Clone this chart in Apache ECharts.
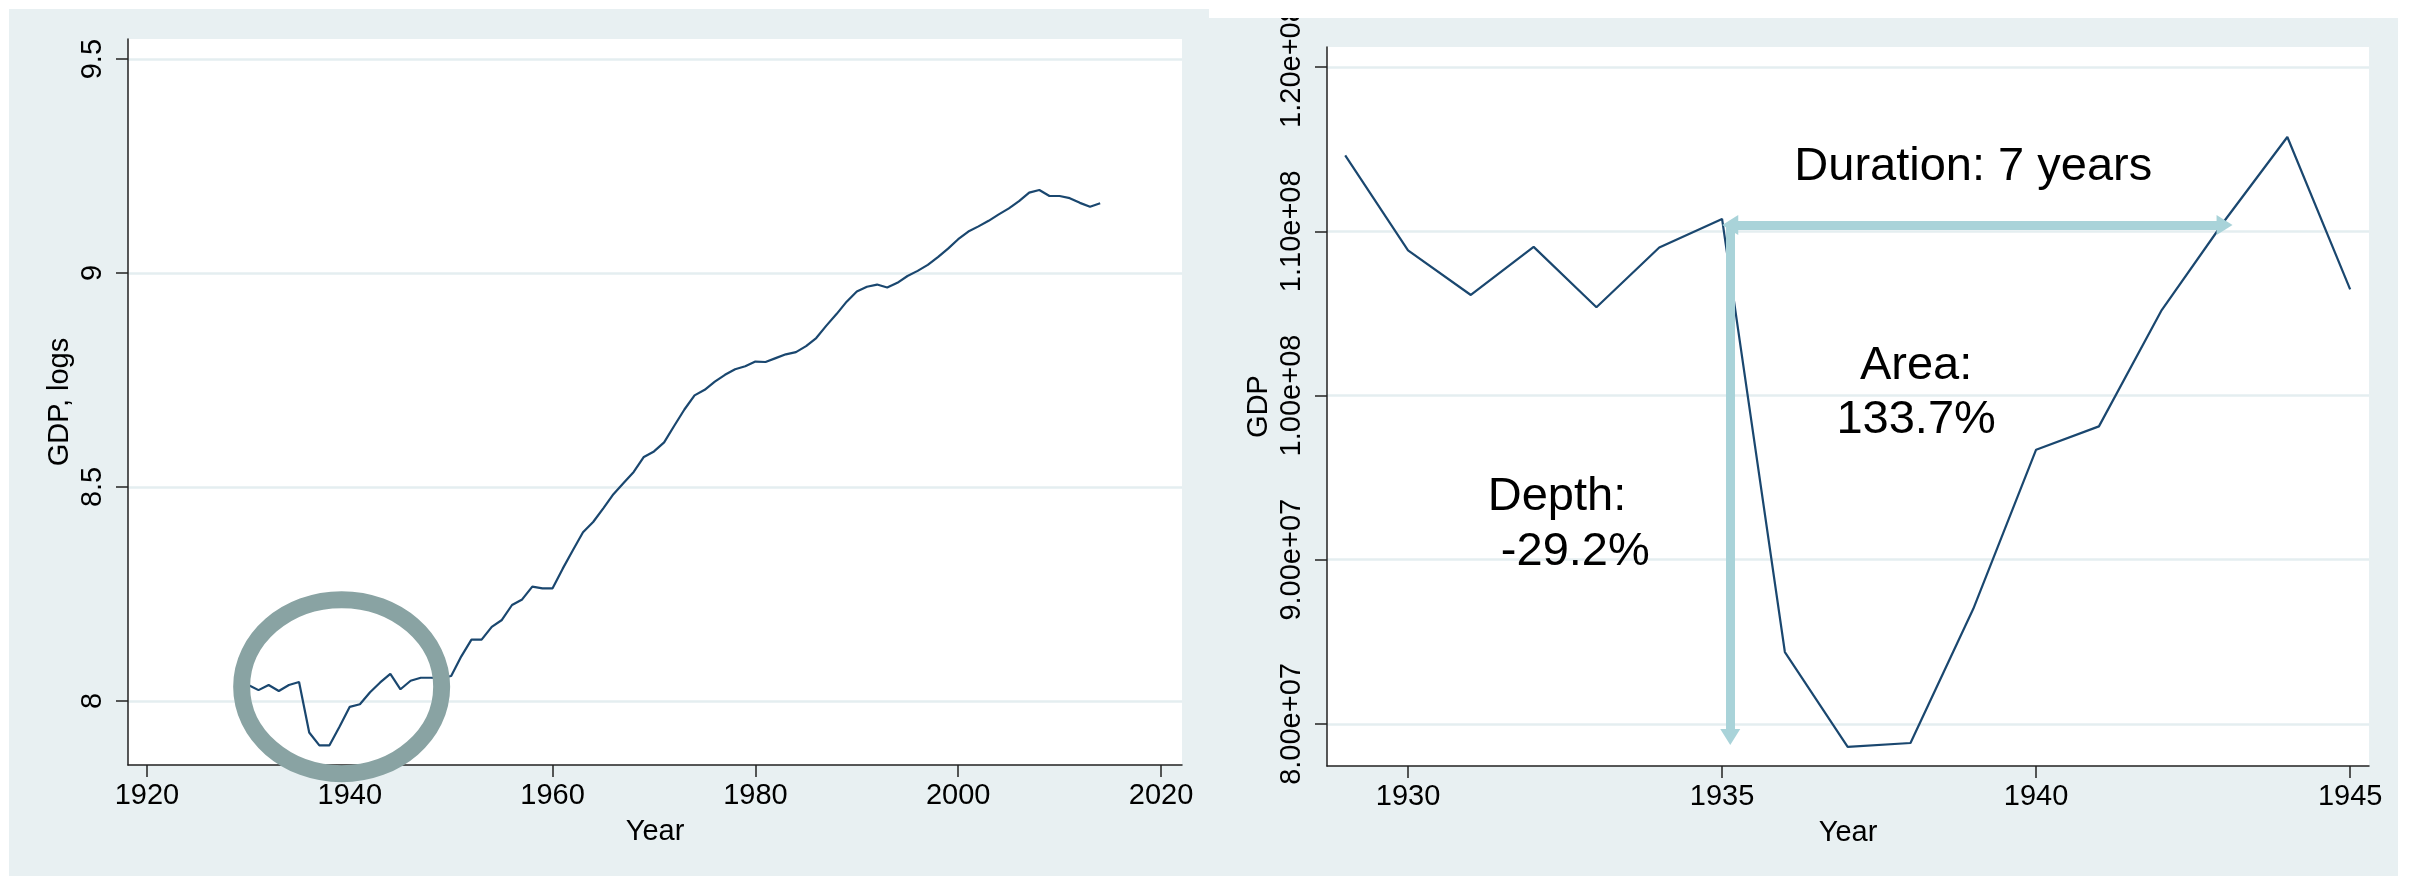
<!DOCTYPE html>
<html>
<head>
<meta charset="utf-8">
<script src="https://cdn.jsdelivr.net/npm/echarts@6/dist/echarts.min.js"></script>
<style>
html,body{margin:0;padding:0;background:#fff;}
#c{width:2413px;height:876px;}
</style>
</head>
<body>
<div id="c"></div>
<script>
// ---------- DATA ----------
const leftYears = [1929,1930,1931,1932,1933,1934,1935,1936,1937,1938,1939,1940,1941,1942,1943,1944,1945,1946,1947,1948,1949,
  1950,1951,1952,1953,1954,1955,1956,1957,1958,1959,1960,1961,1962,1963,1964,1965,1966,1967,1968,1969,
  1970,1971,1972,1973,1974,1975,1976,1977,1978,1979,1980,1981,1982,1983,1984,1985,1986,1987,1988,1989,
  1990,1991,1992,1993,1994,1995,1996,1997,1998,1999,2000,2001,2002,2003,2004,2005,2006,2007,2008,2009,
  2010,2011,2012,2013,2014];
const leftLogGDP = [8.080,8.037,8.025,8.037,8.023,8.037,8.044,7.926,7.896,7.896,7.940,7.986,7.992,8.020,8.043,8.063,8.027,8.047,8.054,8.054,8.053,
  8.058,8.104,8.143,8.143,8.173,8.189,8.224,8.237,8.267,8.263,8.263,8.309,8.352,8.394,8.418,8.450,8.483,8.509,8.535,8.570,
  8.583,8.604,8.643,8.681,8.714,8.727,8.746,8.762,8.775,8.782,8.793,8.792,8.801,8.810,8.815,8.829,8.848,8.877,8.904,8.933,
  8.957,8.968,8.973,8.966,8.977,8.993,9.005,9.019,9.037,9.057,9.079,9.097,9.109,9.122,9.137,9.151,9.168,9.188,9.194,9.180,
  9.180,9.175,9.164,9.155,9.163];
const leftXTicks = [1920,1940,1960,1980,2000,2020];
const leftYTicks = [8,8.5,9,9.5];

const rightYears = [1929,1930,1931,1932,1933,1934,1935,1936,1937,1938,1939,1940,1941,1942,1943,1944,1945];
const rightGDP = [1.1462e8,1.0884e8,1.0612e8,1.0905e8,1.0537e8,1.0901e8,1.1075e8,8.438e7,7.861e7,7.884e7,8.701e7,9.670e7,9.812e7,1.0520e8,1.1064e8,1.1574e8,1.0646e8];
const rightXTicks = [1930,1935,1940,1945];
const rightYTicks = [8e7,9e7,1e8,1.1e8,1.2e8];

const durationText = 'Duration: 7 years';
const areaText = 'Area:\n133.7%';
const depthText = 'Depth:\n -29.2%';
const peakYear = 1935.13, peakLevel = 1.1038e8, recoveryYear = 1943, depthEnd = 7.92e7;

// ---------- STYLE ----------
const FONT = '"Liberation Sans", Arial, Helvetica, sans-serif';
const BG = '#e8f0f2';
const GRID_C = '#e4eef0';
const AXIS_C = '#222222';
const LINE_C = '#1a476f';
const RING_C = '#89a3a3';
const ARROW_C = '#a9d3d9';

function sciLabel(v){
  const s = Number(v).toExponential(2);
  const p = s.split('e');
  return p[0] + 'e' + p[1][0] + p[1].slice(1).padStart(2,'0');
}

function xAxisDef(g, min, max, ticks){
  return {
    gridIndex:g, type:'value', min:min, max:max,
    name:'Year', nameLocation:'middle', nameGap:52,
    nameTextStyle:{fontSize:29, fontFamily:FONT, color:'#000'},
    axisLine:{show:true, onZero:false, lineStyle:{color:AXIS_C, width:1.5}},
    axisTick:{show:true, length:12, customValues:ticks, lineStyle:{color:AXIS_C, width:1.5}},
    axisLabel:{show:true, customValues:ticks, fontSize:29, fontFamily:FONT, color:'#000', margin:16, formatter:v => String(v)},
    splitLine:{show:false}
  };
}
function yAxisDef(g, min, max, ticks, name, fmt){
  return {
    gridIndex:g, type:'value', min:min, max:max,
    name:name, nameLocation:'middle', nameGap:54, nameRotate:90,
    nameTextStyle:{fontSize:29, fontFamily:FONT, color:'#000'},
    axisLine:{show:true, onZero:false, lineStyle:{color:AXIS_C, width:1.5}},
    axisTick:{show:true, length:12, customValues:ticks, lineStyle:{color:AXIS_C, width:1.5}},
    axisLabel:{show:true, customValues:ticks, rotate:90, fontSize:29, fontFamily:FONT, color:'#000', margin:21, formatter:fmt},
    splitLine:{show:true, lineStyle:{color:GRID_C, width:2.5}}
  };
}

const chart = echarts.init(document.getElementById('c'));
chart.setOption({
  animation:false,
  backgroundColor:'transparent',
  grid:[
    {left:128, top:39, width:1054, height:726, show:true, backgroundColor:'#ffffff', borderWidth:0},
    {left:1327, top:47, width:1042, height:719, show:true, backgroundColor:'#ffffff', borderWidth:0}
  ],
  xAxis:[
    xAxisDef(0, 1918.13, 2022.07, leftXTicks),
    xAxisDef(1, 1928.71, 1945.30, rightXTicks)
  ],
  yAxis:[
    yAxisDef(0, 7.85, 9.547, leftYTicks, 'GDP, logs', v => String(v)),
    yAxisDef(1, 7.744e7, 1.2122e8, rightYTicks, 'GDP', sciLabel)
  ],
  series:[
    {type:'line', xAxisIndex:0, yAxisIndex:0, symbol:'none', showSymbol:false,
     data:leftYears.map((y,i)=>[y,leftLogGDP[i]]),
     lineStyle:{color:LINE_C, width:2.2}, z:3},
    {type:'line', xAxisIndex:1, yAxisIndex:1, symbol:'none', showSymbol:false,
     data:rightYears.map((y,i)=>[y,rightGDP[i]]),
     lineStyle:{color:LINE_C, width:2.2}, z:3,
     markLine:{
       silent:true, animation:false, symbolSize:[20,16],
       label:{show:false},
       lineStyle:{color:ARROW_C, width:9, type:'solid', opacity:1},
       emphasis:{disabled:true},
       data:[
         [{coord:[peakYear, peakLevel], symbol:'none'}, {coord:[peakYear, depthEnd], symbol:'triangle'}],
         [{coord:[peakYear, peakLevel], symbol:'triangle'}, {coord:[recoveryYear, peakLevel], symbol:'triangle'}]
       ]
     }}
  ]
});

function px(g, x, y){ return chart.convertToPixel({gridIndex:g}, [x, y]); }
const ringC = px(0, 1939.2, 8.033);
const dur = px(1, 1939.0, 1.139e8);
const area = px(1, 1938.09, 1.0015e8);
const depth = px(1, 1931.27, 9.215e7);

chart.setOption({
  graphic:[
    {type:'rect', z:-100, silent:true, shape:{x:9, y:9, width:1200, height:867}, style:{fill:BG}},
    {type:'rect', z:-100, silent:true, shape:{x:1209, y:18, width:1189, height:858}, style:{fill:BG}},
    {type:'ellipse', z:100, silent:true, shape:{cx:ringC[0], cy:ringC[1], rx:100, ry:87}, style:{fill:'none', stroke:RING_C, lineWidth:17}},
    {type:'text', z:100, silent:true, x:dur[0], y:dur[1], style:{text:durationText, font:'47px ' + FONT, fill:'#000', align:'center', verticalAlign:'middle'}},
    {type:'text', z:100, silent:true, x:area[0], y:area[1], style:{text:areaText, font:'47px ' + FONT, fill:'#000', align:'center', verticalAlign:'middle', lineHeight:54}},
    {type:'text', z:100, silent:true, x:depth[0], y:depth[1], style:{text:depthText, font:'47px ' + FONT, fill:'#000', align:'left', verticalAlign:'middle', lineHeight:55}},
    {type:'rect', z:200, silent:true, shape:{x:1209, y:0, width:1204, height:18}, style:{fill:'#ffffff'}}
  ]
});
</script>
</body>
</html>
